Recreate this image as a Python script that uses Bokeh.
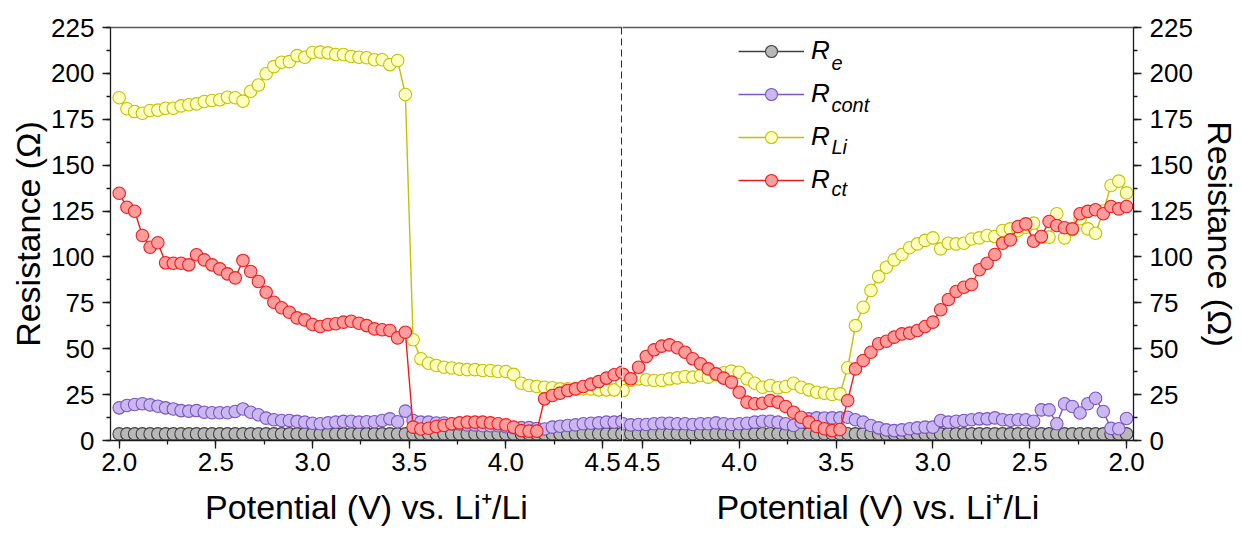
from bokeh.plotting import figure
from bokeh.models import (Range1d, SingleIntervalTicker, PrintfTickFormatter, Span,
                          Legend, LegendItem, Label, LinearAxis, FixedTicker)
from bokeh.layouts import row
from bokeh.embed import file_html
from bokeh.resources import INLINE

FONT = "Liberation Sans"

# ---------------- data: charge (2.0 -> 4.6 V) ----------------
v_charge = [2.00, 2.04, 2.08, 2.12, 2.16, 2.20, 2.24, 2.28, 2.32, 2.36, 2.40, 2.44, 2.48,
            2.52, 2.56, 2.60, 2.64, 2.68, 2.72, 2.76, 2.80, 2.84, 2.88, 2.92, 2.96, 3.00,
            3.04, 3.08, 3.12, 3.16, 3.20, 3.24, 3.28, 3.32, 3.36, 3.40, 3.44, 3.48, 3.52,
            3.56, 3.60, 3.64, 3.68, 3.72, 3.76, 3.80, 3.84, 3.88, 3.92, 3.96, 4.00, 4.04,
            4.08, 4.12, 4.16, 4.20, 4.24, 4.28, 4.32, 4.36, 4.40, 4.44, 4.48, 4.52, 4.56, 4.60]

re_charge = [3.6, 3.6, 3.6, 3.6, 3.6, 3.6, 3.6, 3.6, 3.6, 3.6, 3.6, 3.6, 3.6,
             3.6, 3.6, 3.6, 3.6, 3.6, 3.6, 3.6, 3.6, 3.6, 3.6, 3.6, 3.6, 3.6,
             3.6, 3.6, 3.6, 3.6, 3.6, 3.6, 3.6, 3.6, 3.6, 3.6, 3.6, 3.6, 3.6,
             3.6, 3.6, 3.6, 3.6, 3.6, 3.6, 3.6, 3.6, 3.6, 3.6, 3.6, 3.6, 3.6,
             3.6, 3.6, 3.6, 3.6, 3.6, 3.6, 3.6, 3.6, 3.6, 3.7, 3.7, 3.7, 3.7, 3.7]

rcont_charge = [17.8, 19.1, 19.6, 20.0, 19.4, 18.7, 17.8, 17.2, 16.3, 16.0, 16.3, 15.4, 15.1,
                15.1, 15.1, 15.8, 17.2, 15.4, 14.0, 12.2, 11.3, 10.9, 10.9, 10.4, 10.0, 9.4,
                9.1, 9.6, 10.0, 10.4, 10.5, 10.0, 10.2, 10.2, 10.9, 11.8, 10.2, 16.0, 10.9,
                10.0, 10.0, 9.5, 9.5, 9.0, 9.0, 8.5, 8.5, 8.0, 8.0, 8.0, 7.5, 7.0,
                7.0, 7.0, 6.5, 6.3, 7.3, 7.8, 8.2, 8.5, 9.1, 9.4, 9.6, 10.0, 10.0, 10.4]

rli_charge = [186.7, 180.7, 179.2, 178.3, 179.8, 180.0, 181.0, 181.0, 182.3, 182.9, 183.4, 184.7, 185.2,
              185.6, 187.0, 186.7, 184.9, 190.3, 193.7, 199.8, 203.7, 206.1, 206.4, 209.7, 208.8, 211.4,
              211.6, 211.2, 210.3, 210.3, 209.2, 208.8, 208.5, 207.4, 207.4, 204.8, 207.0, 188.5, 54.9,
              44.5, 42.1, 40.9, 39.9, 39.5, 38.9, 38.6, 38.6, 38.1, 38.1, 37.6, 37.6, 36.0,
              31.2, 30.0, 29.4, 29.0, 28.7, 28.1, 28.1, 28.1, 28.1, 28.1, 27.6, 27.6, 27.6, 32.3]

rct_charge = [134.7, 127.1, 124.9, 111.7, 105.3, 107.7, 96.8, 96.6, 96.6, 95.7, 101.2, 98.4, 95.7,
              93.5, 90.8, 88.6, 98.1, 92.1, 86.6, 80.8, 75.3, 72.3, 69.9, 66.8, 65.7, 63.2,
              62.1, 63.2, 63.6, 64.5, 65.0, 63.9, 62.6, 60.8, 60.3, 59.9, 55.9, 59.0, 7.3,
              6.3, 6.7, 7.6, 8.2, 9.1, 9.6, 10.0, 10.0, 10.0, 9.6, 9.1, 8.5, 7.3,
              5.4, 5.1, 5.1, 22.7, 24.5, 25.8, 27.2, 28.1, 29.4, 30.7, 32.1, 34.0, 35.8, 37.2]

# ---------------- data: discharge (4.6 -> 2.0 V) ----------------
v_dis = [4.60, 4.56, 4.52, 4.48, 4.44, 4.40, 4.36, 4.32, 4.28, 4.24, 4.20, 4.16, 4.12,
         4.08, 4.04, 4.00, 3.96, 3.92, 3.88, 3.84, 3.80, 3.76, 3.72, 3.68, 3.64, 3.60,
         3.56, 3.52, 3.48, 3.44, 3.40, 3.36, 3.32, 3.28, 3.24, 3.20, 3.16, 3.12, 3.08,
         3.04, 3.00, 2.96, 2.92, 2.88, 2.84, 2.80, 2.76, 2.72, 2.68, 2.64, 2.60, 2.56,
         2.52, 2.48, 2.44, 2.40, 2.36, 2.32, 2.28, 2.24, 2.20, 2.16, 2.12, 2.08, 2.04, 2.00]

re_dis = [3.7, 3.7, 3.7, 3.7, 3.7, 3.7, 3.7, 3.7, 3.7, 3.7, 3.7, 3.7, 3.7,
          3.7, 3.7, 3.7, 3.7, 3.7, 3.7, 3.7, 3.7, 3.7, 3.7, 3.7, 3.7, 3.7,
          3.7, 3.7, 3.7, 3.7, 3.6, 3.6, 3.6, 3.6, 3.6, 3.6, 3.6, 3.6, 3.6,
          3.6, 3.6, 3.6, 3.6, 3.6, 3.6, 3.6, 3.6, 3.6, 3.6, 3.6, 3.6, 3.6,
          3.6, 3.6, 3.6, 3.6, 3.6, 3.6, 3.6, 3.6, 3.6, 3.6, 3.6, 3.6, 3.6, 3.6]

rcont_dis = [9.1, 8.5, 8.7, 8.7, 9.1, 9.4, 9.4, 9.1, 9.1, 8.7, 9.1, 9.1, 9.6,
             9.1, 8.7, 9.1, 9.4, 10.0, 10.5, 10.5, 10.0, 9.1, 8.2, 10.0, 11.8, 12.3,
             12.3, 12.3, 12.3, 12.7, 11.3, 10.0, 8.2, 6.9, 5.8, 5.4, 5.8, 6.4, 6.9,
             7.3, 7.3, 10.9, 10.0, 10.5, 10.9, 11.3, 11.8, 11.8, 12.3, 11.3, 10.9, 11.3,
             11.3, 10.5, 16.7, 16.7, 9.1, 20.0, 18.5, 15.0, 20.0, 23.0, 15.8, 6.6, 6.4, 12.0]

rli_dis = [27.2, 32.7, 33.6, 33.1, 32.7, 32.7, 33.6, 34.1, 34.9, 34.5, 35.4, 34.5, 35.8,
           36.9, 37.8, 37.2, 33.6, 31.2, 29.0, 30.0, 28.7, 29.4, 31.2, 29.0, 27.6, 26.3,
           25.8, 25.1, 25.4, 39.6, 62.6, 72.6, 81.7, 89.3, 94.4, 98.4, 101.3, 105.0, 107.1,
           109.0, 110.4, 104.4, 107.5, 107.1, 107.5, 109.8, 110.4, 111.7, 111.1, 114.4, 115.3, 114.4,
           116.2, 118.4, 110.8, 110.8, 123.5, 110.4, 114.8, 120.8, 115.3, 112.9, 125.0, 138.9, 141.3, 134.9]

rct_dis = [36.0, 33.6, 39.9, 45.8, 49.4, 51.4, 52.1, 50.5, 48.1, 44.5, 41.8, 39.0, 36.3,
           34.0, 31.8, 26.3, 20.9, 20.0, 20.3, 21.8, 20.9, 18.5, 15.4, 12.7, 10.0, 7.6,
           6.4, 5.4, 6.0, 21.8, 39.0, 43.6, 48.1, 52.7, 54.1, 56.3, 58.1, 58.5, 59.9,
           62.1, 64.5, 71.2, 76.8, 81.2, 83.5, 85.0, 93.0, 96.6, 101.3, 107.5, 109.3, 116.6,
           118.0, 108.6, 111.1, 119.3, 117.1, 115.9, 115.3, 123.5, 124.8, 125.7, 123.5, 127.5, 126.2, 127.5]

series_names = ["e", "cont", "Li", "ct"]
line_colors = ["#404040", "#7b55c0", "#c2c200", "#ee1c1c"]
fill_colors = ["#b8b8b8", "#cbb8f0", "#ffffc2", "#ff9c9c"]

x_title = "Potential (V) vs. Li\u207a/Li"
y_title = "Resistance (\u03a9)"


def style_axis(ax):
    ax.axis_line_color = "#1a1a1a"
    ax.axis_line_width = 1.3
    ax.major_tick_line_color = "#1a1a1a"
    ax.minor_tick_line_color = "#1a1a1a"
    ax.major_tick_line_width = 1.3
    ax.minor_tick_line_width = 1.3
    ax.major_tick_out = 8
    ax.major_tick_in = 0
    ax.minor_tick_out = 4
    ax.minor_tick_in = 0
    ax.major_label_text_font = FONT
    ax.major_label_text_font_size = "26px"
    ax.major_label_text_color = "black"
    ax.axis_label_text_font = FONT
    ax.axis_label_text_font_size = "34px"
    ax.axis_label_text_font_style = "normal"
    ax.axis_label_text_color = "black"


def make_fig(xr, side):
    kw = dict(frame_width=512 if side == "left" else 511, frame_height=413,
              x_range=xr, y_range=Range1d(0, 225),
              output_backend="svg", toolbar_location=None,
              min_border_top=27, min_border_bottom=94)
    if side == "left":
        kw.update(min_border_left=110, min_border_right=0, y_axis_location="left")
    else:
        kw.update(min_border_left=0, min_border_right=104, y_axis_location="right")
    p = figure(**kw)
    p.outline_line_color = None
    p.xgrid.visible = False
    p.ygrid.visible = False
    p.background_fill_color = "white"
    p.border_fill_color = "white"
    p.xaxis.ticker = SingleIntervalTicker(interval=0.5, num_minor_ticks=2)
    p.xaxis.formatter = PrintfTickFormatter(format="%.1f")
    p.yaxis.ticker = SingleIntervalTicker(interval=25, num_minor_ticks=2)
    p.xaxis.axis_label = x_title
    p.yaxis.axis_label = y_title
    for ax in p.xaxis + p.yaxis:
        style_axis(ax)
    p.xaxis.major_label_standoff = 4
    p.xaxis.axis_label_standoff = 14
    p.yaxis.major_label_standoff = 8
    p.yaxis.axis_label_standoff = 1 if side == "left" else 5
    # top frame line (axis line only)
    top = LinearAxis(ticker=FixedTicker(ticks=[]), axis_line_color="#5a5a5a",
                     axis_line_width=1.3, major_label_text_font_size="0px",
                     major_tick_out=0, minor_tick_out=0)
    p.add_layout(top, "above")
    return p


def draw(p, x, ys):
    rends = []
    for y, lc, fc in zip(ys, line_colors, fill_colors):
        l = p.line(x, y, line_color=lc, line_width=1.4)
        s = p.scatter(x, y, marker="circle", size=12.5, fill_color=fc, line_color=lc, line_width=1.1)
        rends.append((l, s))
    return rends


pl = make_fig(Range1d(1.955, 4.603), "left")
pr = make_fig(Range1d(4.603, 1.964), "right")

draw(pl, v_charge, [re_charge, rcont_charge, rli_charge, rct_charge])
rends = draw(pr, v_dis, [re_dis, rcont_dis, rli_dis, rct_dis])

pl.add_layout(Span(location=4.60, dimension="height", line_color="#111111",
                   line_width=1.6, line_dash="7 4"))

items = [LegendItem(label="R", renderers=list(r)) for r in rends]
leg = Legend(items=items, location=(116, 245), glyph_width=66, glyph_height=30,
             label_height=30, spacing=12, padding=0, margin=0, label_standoff=7,
             border_line_color=None, background_fill_alpha=0,
             label_text_font=FONT, label_text_font_size="26px",
             label_text_font_style="italic", label_text_color="black")
pr.add_layout(leg)

for i, s in enumerate(series_names):
    pr.add_layout(Label(x=209, y=377.5 - 42 * i, x_units="screen", y_units="screen",
                        text=s, text_font=FONT, text_font_size="20px",
                        text_font_style="italic", text_color="black",
                        text_baseline="alphabetic", text_align="left"))

layout = row(pl, pr)
open("out.html", "w").write(file_html(layout, INLINE))
